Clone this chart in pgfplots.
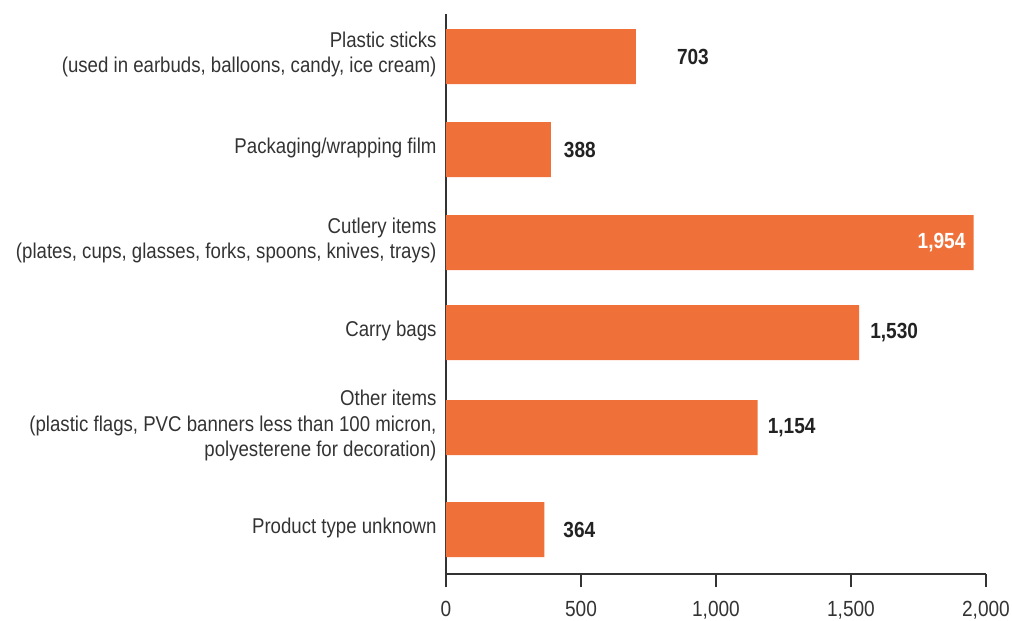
\documentclass[border=0pt]{standalone}
\usepackage{pgfplots}
\pgfplotsset{compat=1.18}
\usepackage{fontspec}
\setmainfont[FakeStretch=0.87]{Liberation Sans}
\definecolor{barc}{HTML}{F0703A}
\definecolor{txt}{HTML}{333333}
\definecolor{valc}{HTML}{222222}
\begin{document}
\begin{tikzpicture}
\begin{axis}[
  name=ax,
  scale only axis,
  width=540bp, height=560bp,
  xmin=0, xmax=2000, ymin=0, ymax=560,
  enlargelimits=false,
  axis x line=bottom, axis y line=left,
  axis line style={-, color=txt, line width=1.1pt},
  xtick={0,500,1000,1500,2000},
  xticklabels={0,500,{1,000},{1,500},{2,000}},
  tick align=outside,
  major tick length=13bp,
  xtick style={color=txt, line width=1.1pt},
  xticklabel style={font=\fontsize{22}{26}\selectfont, text=txt, yshift=-11bp},
  ytick={517.5,424.5,331.5,241.5,146.5,44.5},
  yticklabels={
    {Plastic sticks\\(used in earbuds, balloons, candy, ice cream)},
    {Packaging/wrapping film},
    {Cutlery items\\(plates, cups, glasses, forks, spoons, knives, trays)},
    {Carry bags},
    {Other items\\(plastic flags, PVC banners less than 100 micron,\\polyesterene for decoration)},
    {Product type unknown}},
  ytick style={draw=none},
  yticklabel style={align=right, font=\fontsize{21.5}{26}\selectfont, text=txt, xshift=7bp, yshift=2bp},
  clip=false,
]
\addplot[xbar, fill=barc, draw=none, bar width=55] coordinates {
  (703,517.5) (388,424.5) (1954,331.5) (1530,241.5) (1154,146.5) (364,44.5)
};
\begin{scope}[every node/.style={font=\fontsize{22}{26}\selectfont\bfseries, text=valc, inner sep=0pt}]
\node[anchor=west, xshift=41bp] at (axis cs:703,517.5) {703};
\node[anchor=west, xshift=13bp] at (axis cs:388,424.5) {388};
\node[anchor=east, xshift=-8bp, text=white] at (axis cs:1954,331.5) {1,954};
\node[anchor=west, xshift=11bp] at (axis cs:1530,241.5) {1,530};
\node[anchor=west, xshift=10bp] at (axis cs:1154,146.5) {1,154};
\node[anchor=west, xshift=19bp] at (axis cs:364,44.5) {364};
\end{scope}
\end{axis}
\pgfresetboundingbox
\path (ax.south west) ++(-446bp,-47bp) rectangle ++(1012bp,621bp);
\end{tikzpicture}
\end{document}
